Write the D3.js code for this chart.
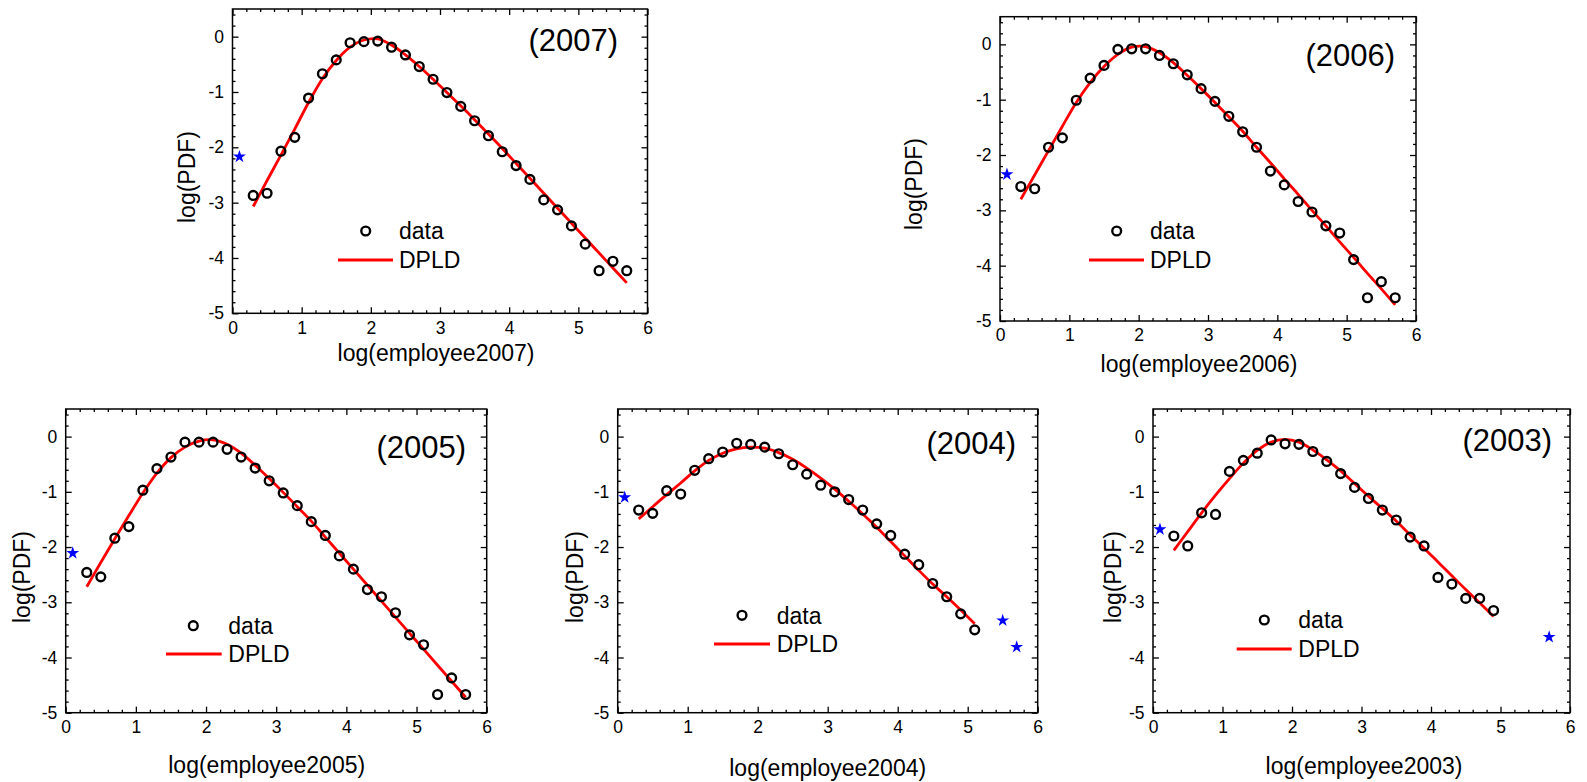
<!DOCTYPE html>
<html>
<head>
<meta charset="utf-8">
<script src="https://cdn.jsdelivr.net/npm/d3@7"></script>
<style>
  html, body { margin: 0; padding: 0; background: #fff; }
  svg { display: block; font-family: Arial, "Liberation Sans", Helvetica, sans-serif; }
</style>
</head>
<body>
<svg id="chart" width="1587" height="782"></svg>
<script>
// Shared axis ticks
const xMajorTicks = [0, 1, 2, 3, 4, 5, 6];
const yMajorTicks = [-5, -4, -3, -2, -1, 0];
const xMinorStep = 0.2;
const yMinorStep = 0.2;

// Bin centres (log of employee count)
const bins28 = [0.3, 0.5, 0.7, 0.9, 1.1, 1.3, 1.5, 1.7, 1.9, 2.1, 2.3, 2.5, 2.7, 2.9, 3.1, 3.3, 3.5, 3.7, 3.9, 4.1, 4.3, 4.5, 4.7, 4.9, 5.1, 5.3, 5.5, 5.7];
const bins25 = [0.3, 0.5, 0.7, 0.9, 1.1, 1.3, 1.5, 1.7, 1.9, 2.1, 2.3, 2.5, 2.7, 2.9, 3.1, 3.3, 3.5, 3.7, 3.9, 4.1, 4.3, 4.5, 4.7, 4.9, 5.1];
const bins24 = [0.3, 0.5, 0.7, 0.9, 1.1, 1.3, 1.5, 1.7, 1.9, 2.1, 2.3, 2.5, 2.7, 2.9, 3.1, 3.3, 3.5, 3.7, 3.9, 4.1, 4.3, 4.5, 4.7, 4.9];

// 2007
const data2007 = [-2.87, -2.83, -2.07, -1.82, -1.11, -0.67, -0.42, -0.11, -0.09, -0.08, -0.19, -0.33, -0.54, -0.77, -1.01, -1.26, -1.52, -1.79, -2.08, -2.33, -2.58, -2.95, -3.13, -3.42, -3.75, -4.23, -4.06, -4.23];
const fit2007  = [-3.07, -2.60, -2.14, -1.67, -1.19, -0.76, -0.43, -0.19, -0.06, -0.04, -0.15, -0.33, -0.54, -0.77, -1.01, -1.25, -1.50, -1.76, -2.02, -2.29, -2.56, -2.83, -3.10, -3.37, -3.64, -3.91, -4.18, -4.45];
const outliers2007 = [[0.1, -2.17]];

// 2006
const data2006 = [-2.57, -2.61, -1.86, -1.69, -1.01, -0.61, -0.38, -0.09, -0.08, -0.08, -0.20, -0.35, -0.55, -0.80, -1.03, -1.30, -1.58, -1.86, -2.29, -2.54, -2.84, -3.03, -3.28, -3.41, -3.89, -4.58, -4.29, -4.58];
const fit2006  = [-2.80, -2.36, -1.92, -1.48, -1.05, -0.69, -0.40, -0.18, -0.05, -0.04, -0.15, -0.33, -0.56, -0.80, -1.05, -1.31, -1.57, -1.86, -2.14, -2.43, -2.71, -3.00, -3.28, -3.57, -3.85, -4.14, -4.42, -4.71];
const outliers2006 = [[0.1, -2.35]];

// 2005
const data2005 = [-2.46, -2.54, -1.84, -1.63, -0.97, -0.58, -0.37, -0.10, -0.10, -0.10, -0.23, -0.37, -0.57, -0.80, -1.02, -1.25, -1.54, -1.79, -2.16, -2.40, -2.77, -2.90, -3.19, -3.59, -3.77, -4.67, -4.37, -4.67];
const fit2005  = [-2.72, -2.28, -1.85, -1.43, -1.02, -0.66, -0.38, -0.19, -0.08, -0.06, -0.14, -0.30, -0.52, -0.76, -1.01, -1.27, -1.53, -1.82, -2.11, -2.40, -2.69, -2.98, -3.27, -3.56, -3.85, -4.14, -4.43, -4.72];
const outliers2005 = [[0.1, -2.11]];

// 2004
const data2004 = [-1.33, -1.39, -0.98, -1.04, -0.61, -0.40, -0.28, -0.12, -0.14, -0.19, -0.31, -0.51, -0.68, -0.88, -1.00, -1.14, -1.33, -1.58, -1.79, -2.13, -2.32, -2.66, -2.90, -3.21, -3.50];
const fit2004  = [-1.49, -1.27, -1.05, -0.84, -0.62, -0.43, -0.30, -0.22, -0.19, -0.21, -0.29, -0.41, -0.57, -0.75, -0.95, -1.17, -1.40, -1.64, -1.90, -2.16, -2.42, -2.67, -2.90, -3.14, -3.39];
const outliers2004 = [[0.1, -1.10], [5.5, -3.33], [5.7, -3.81]];

// 2003
const data2003 = [-1.80, -1.98, -1.38, -1.41, -0.63, -0.43, -0.30, -0.06, -0.13, -0.14, -0.27, -0.45, -0.67, -0.92, -1.12, -1.33, -1.51, -1.82, -1.98, -2.55, -2.67, -2.93, -2.93, -3.15];
const fit2003  = [-2.06, -1.72, -1.38, -1.06, -0.76, -0.48, -0.25, -0.10, -0.05, -0.10, -0.24, -0.42, -0.62, -0.85, -1.08, -1.30, -1.53, -1.78, -2.02, -2.27, -2.52, -2.77, -3.01, -3.26];
const outliers2003 = [[0.1, -1.68], [5.7, -3.63]];

const legendLabels = ["data", "DPLD"];

// Panel placement on the page
const panels = [
  { year: "2007", bins: bins28, data: data2007, fit: fit2007, outliers: outliers2007,
    frame: [232.5, 9, 647.5, 313.3], xTitle: [436, 355], yTitle: [189, 177], tag: [618, 42.5],
    legend: { cx: 365.7, cy: 231, tx: 399, lx1: 338, lx2: 393, ly: 260 } },
  { year: "2006", bins: bins28, data: data2006, fit: fit2006, outliers: outliers2006,
    frame: [1000, 16.7, 1416, 321], xTitle: [1199, 365.5], yTitle: [916, 184], tag: [1395, 58],
    legend: { cx: 1116.7, cy: 231, tx: 1150, lx1: 1089, lx2: 1144, ly: 260 } },
  { year: "2005", bins: bins28, data: data2005, fit: fit2005, outliers: outliers2005,
    frame: [65.7, 409, 486.7, 712.7], xTitle: [266.7, 766.7], yTitle: [24, 577], tag: [466, 449.5],
    legend: { cx: 193.3, cy: 625.7, tx: 228.3, lx1: 166, lx2: 221.7, ly: 654 } },
  { year: "2004", bins: bins25, data: data2004, fit: fit2004, outliers: outliers2004,
    frame: [617.7, 409, 1037.7, 712.7], xTitle: [827.7, 770], yTitle: [576.7, 577], tag: [1016, 446],
    legend: { cx: 742, cy: 615.3, tx: 776.7, lx1: 714, lx2: 770, ly: 644 } },
  { year: "2003", bins: bins24, data: data2003, fit: fit2003, outliers: outliers2003,
    frame: [1153, 409, 1570, 712.7], xTitle: [1364, 768], yTitle: [1115, 577], tag: [1552, 443],
    legend: { cx: 1264.3, cy: 620, tx: 1298.3, lx1: 1236.7, lx2: 1291.7, ly: 649 } }
];

const svg = d3.select("#chart");
const tickFont = 17.5, titleFont = 23, tagFont = 31, legendFont = 23;
const plainNumber = d => String(d); // hyphen-minus, as in the printed figure

function minorTicks(lo, hi, step, majors) {
  const out = [];
  for (let v = lo; v <= hi + 1e-9; v += step) {
    const r = Math.round(v * 10) / 10;
    if (!majors.some(m => Math.abs(m - r) < 1e-6)) out.push(r);
  }
  return out;
}

panels.forEach(p => {
  const [x0, y0, x1, y1] = p.frame;
  const x = d3.scaleLinear().domain([0, 6]).range([x0, x1]);
  const y = d3.scaleLinear().domain([-5, 0.5]).range([y1, y0]);
  const g = svg.append("g");

  const xMinor = minorTicks(0, 6, xMinorStep, xMajorTicks);
  const yMinor = minorTicks(-5, 0.5, yMinorStep, yMajorTicks);

  const styleAxis = sel => {
    sel.select(".domain").remove();
    sel.selectAll("line").attr("stroke", "#000").attr("stroke-width", 1.3);
    sel.selectAll("text").attr("font-size", tickFont).attr("fill", "#000")
       .attr("font-family", "Arial, 'Liberation Sans', sans-serif");
  };

  // bottom axis: labelled majors + minors, ticks pointing inward
  g.append("g").attr("transform", `translate(0,${y1})`)
    .call(d3.axisBottom(x).tickValues(xMajorTicks).tickSizeInner(-6).tickSizeOuter(0).tickPadding(8).tickFormat(plainNumber))
    .call(styleAxis);
  g.append("g").attr("transform", `translate(0,${y1})`)
    .call(d3.axisBottom(x).tickValues(xMinor).tickSizeInner(-3).tickSizeOuter(0).tickFormat(""))
    .call(styleAxis);
  // top axis
  g.append("g").attr("transform", `translate(0,${y0})`)
    .call(d3.axisTop(x).tickValues(xMajorTicks).tickSizeInner(-6).tickSizeOuter(0).tickFormat(""))
    .call(styleAxis);
  g.append("g").attr("transform", `translate(0,${y0})`)
    .call(d3.axisTop(x).tickValues(xMinor).tickSizeInner(-3).tickSizeOuter(0).tickFormat(""))
    .call(styleAxis);
  // left axis
  g.append("g").attr("transform", `translate(${x0},0)`)
    .call(d3.axisLeft(y).tickValues(yMajorTicks).tickSizeInner(-6).tickSizeOuter(0).tickPadding(8.5).tickFormat(plainNumber))
    .call(styleAxis);
  g.append("g").attr("transform", `translate(${x0},0)`)
    .call(d3.axisLeft(y).tickValues(yMinor).tickSizeInner(-3).tickSizeOuter(0).tickFormat(""))
    .call(styleAxis);
  // right axis
  g.append("g").attr("transform", `translate(${x1},0)`)
    .call(d3.axisRight(y).tickValues(yMajorTicks).tickSizeInner(-6).tickSizeOuter(0).tickFormat(""))
    .call(styleAxis);
  g.append("g").attr("transform", `translate(${x1},0)`)
    .call(d3.axisRight(y).tickValues(yMinor).tickSizeInner(-3).tickSizeOuter(0).tickFormat(""))
    .call(styleAxis);

  // frame
  g.append("rect").attr("x", x0).attr("y", y0).attr("width", x1 - x0).attr("height", y1 - y0)
    .attr("fill", "none").attr("stroke", "#000").attr("stroke-width", 1.5);

  // fitted DPLD curve
  const fitPts = p.bins.map((b, i) => [b, p.fit[i]]);
  g.append("path").datum(fitPts)
    .attr("d", d3.line().x(d => x(d[0])).y(d => y(d[1])).curve(d3.curveCatmullRom.alpha(0.5)))
    .attr("fill", "none").attr("stroke", "#ff0000").attr("stroke-width", 2.8)
    .attr("stroke-linejoin", "round");

  // empirical PDF points
  g.selectAll("circle.pt").data(p.bins.map((b, i) => [b, p.data[i]])).join("circle")
    .attr("class", "pt")
    .attr("cx", d => x(d[0])).attr("cy", d => y(d[1])).attr("r", 4.4)
    .attr("fill", "none").attr("stroke", "#000").attr("stroke-width", 2.4);

  // excluded points
  g.selectAll("path.star").data(p.outliers).join("path")
    .attr("class", "star")
    .attr("transform", d => `translate(${x(d[0])},${y(d[1])})`)
    .attr("d", d3.symbol(d3.symbolStar, 52))
    .attr("fill", "#0000ff");

  // year tag
  g.append("text").attr("x", p.tag[0]).attr("y", p.tag[1]).attr("dy", "0.27em")
    .attr("text-anchor", "end").attr("font-size", tagFont).attr("fill", "#000")
    .text(`(${p.year})`);

  // axis titles
  g.append("text").attr("x", p.xTitle[0]).attr("y", p.xTitle[1]).attr("dy", "0.27em")
    .attr("text-anchor", "middle").attr("font-size", titleFont).attr("fill", "#000")
    .text(`log(employee${p.year})`);
  g.append("text")
    .attr("transform", `translate(${p.yTitle[0]},${p.yTitle[1]}) rotate(-90)`)
    .attr("dy", "0.27em").attr("text-anchor", "middle")
    .attr("font-size", titleFont).attr("fill", "#000")
    .text("log(PDF)");

  // legend
  const L = p.legend;
  g.append("circle").attr("cx", L.cx).attr("cy", L.cy).attr("r", 4.4)
    .attr("fill", "none").attr("stroke", "#000").attr("stroke-width", 2.4);
  g.append("text").attr("x", L.tx).attr("y", L.cy).attr("dy", "0.36em")
    .attr("font-size", legendFont).attr("fill", "#000").text(legendLabels[0]);
  g.append("line").attr("x1", L.lx1).attr("x2", L.lx2).attr("y1", L.ly).attr("y2", L.ly)
    .attr("stroke", "#ff0000").attr("stroke-width", 2.8);
  g.append("text").attr("x", L.tx).attr("y", L.ly).attr("dy", "0.36em")
    .attr("font-size", legendFont).attr("fill", "#000").text(legendLabels[1]);
});
</script>
</body>
</html>
